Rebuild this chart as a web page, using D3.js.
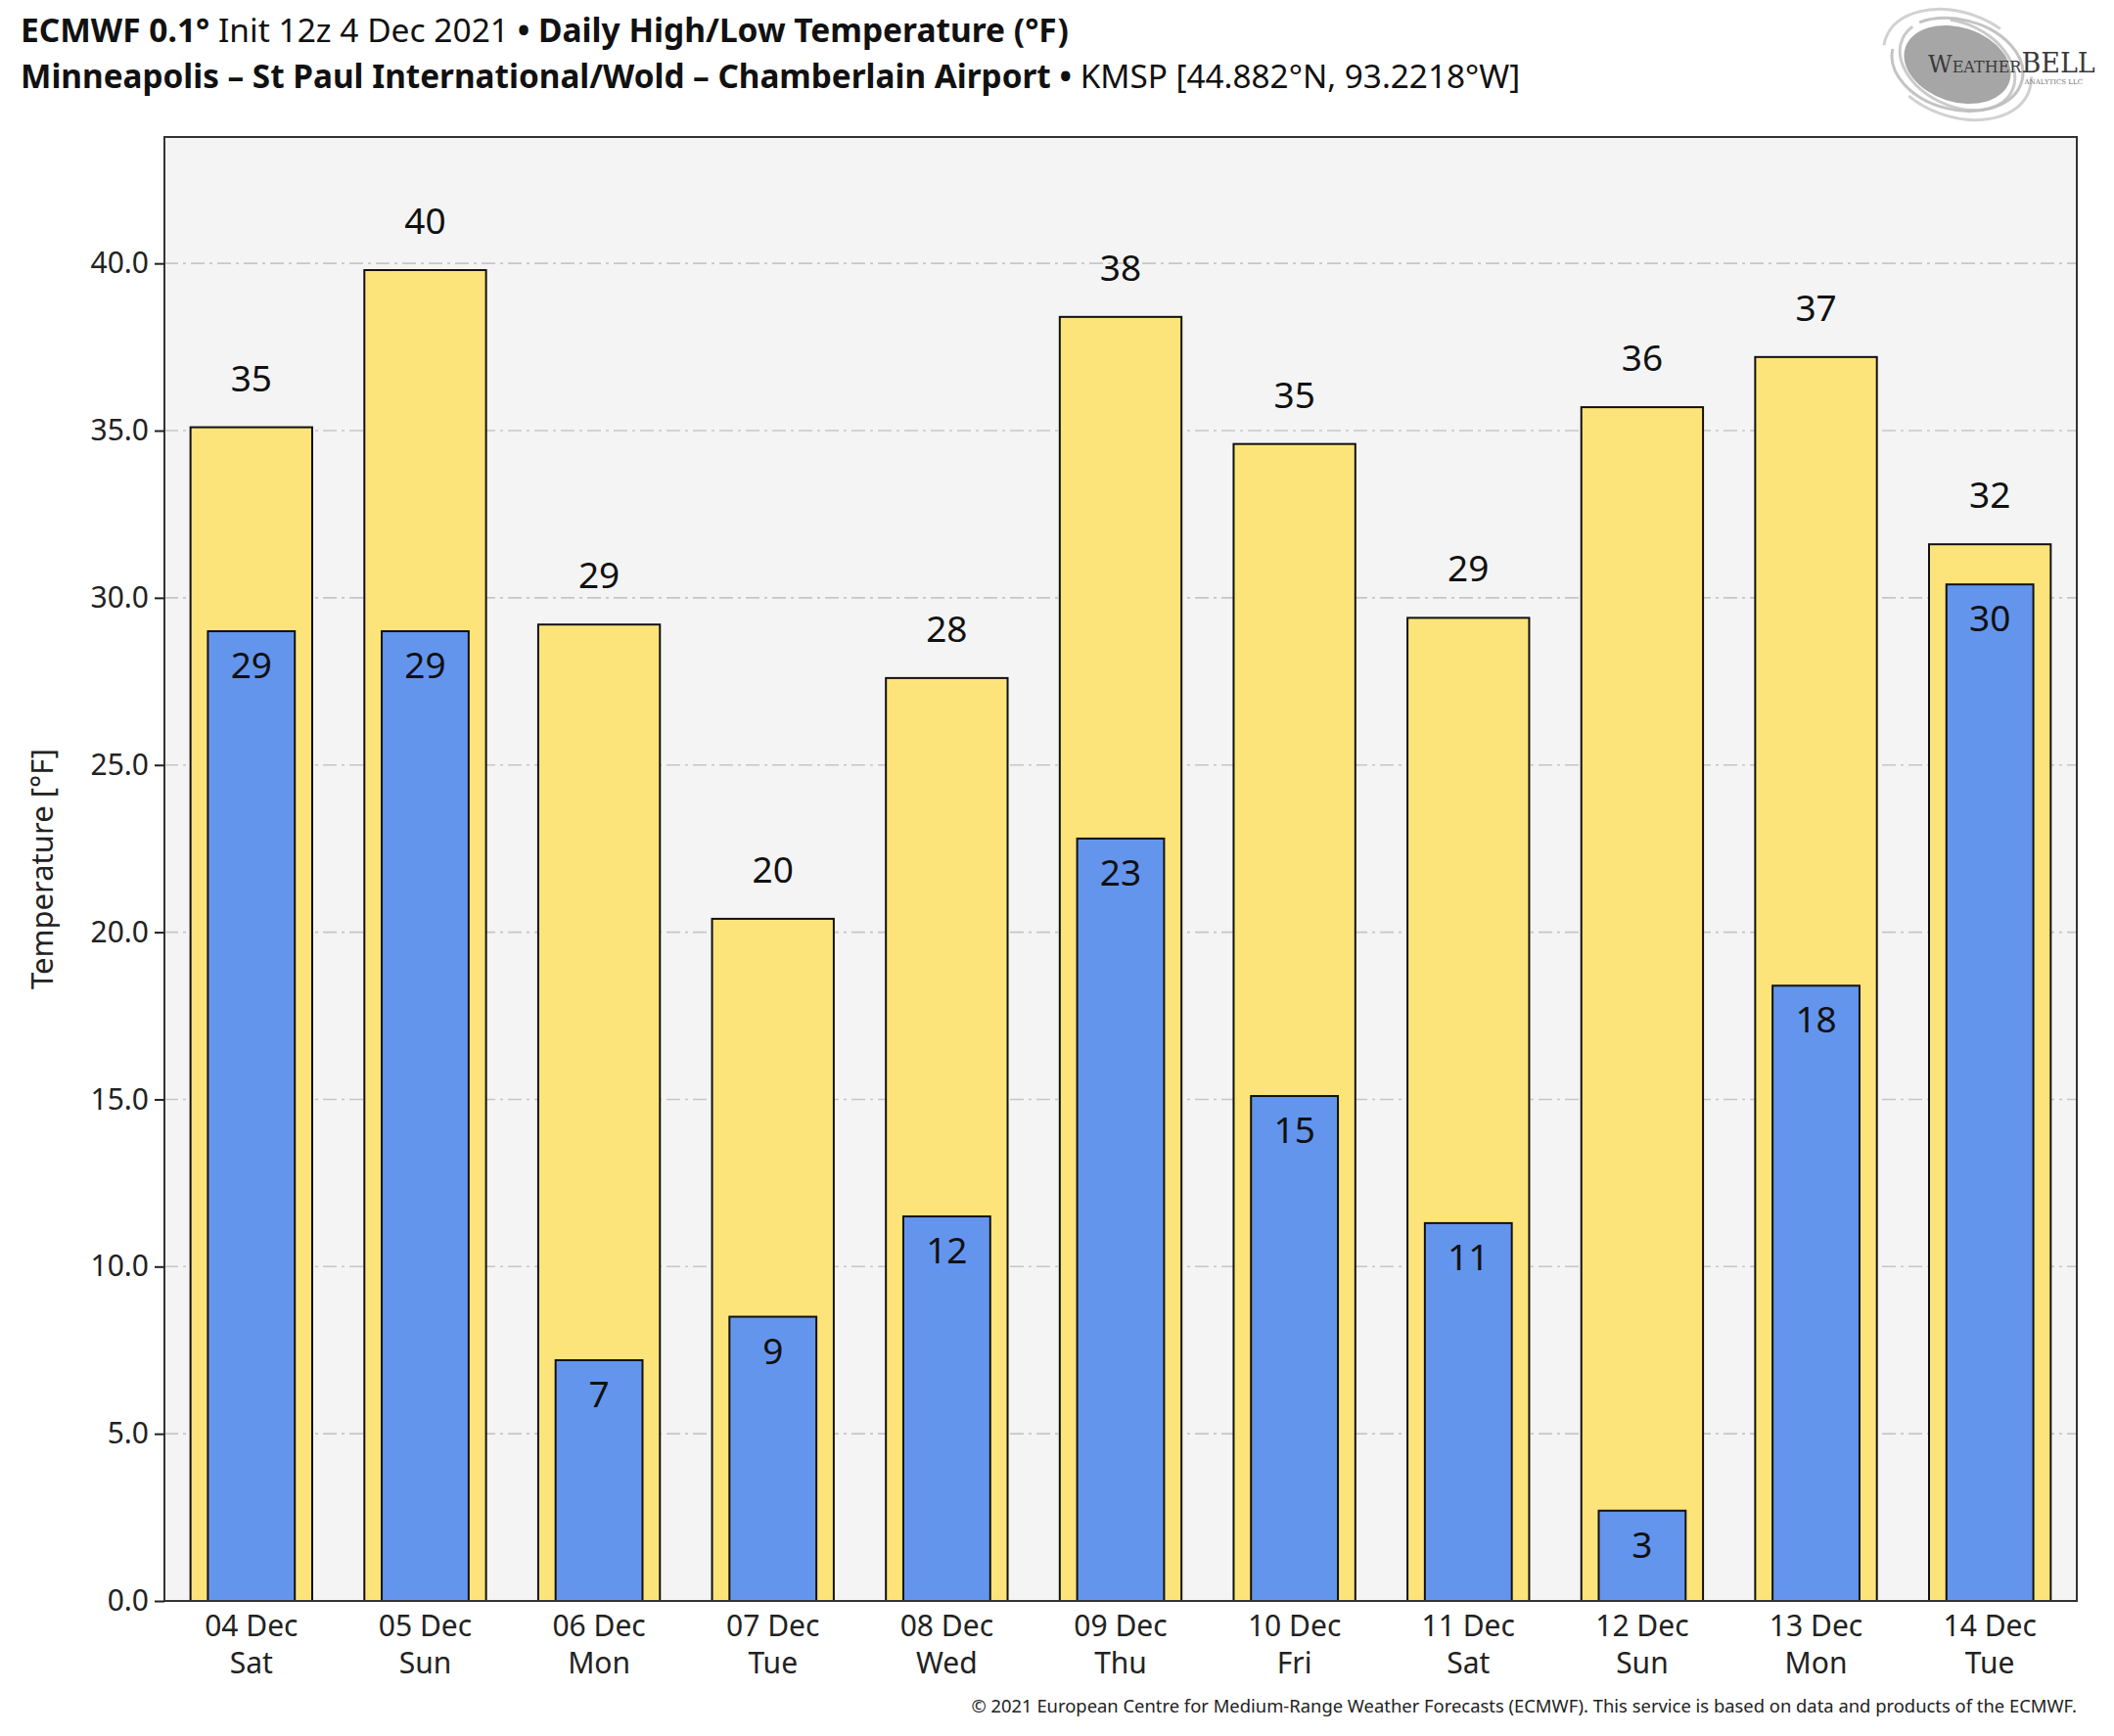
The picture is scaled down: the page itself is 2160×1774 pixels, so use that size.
<!DOCTYPE html>
<html>
<head>
<meta charset="utf-8">
<script src="https://cdn.jsdelivr.net/npm/d3@7"></script>
<style>
  body { margin: 0; background: #fff; }
  svg { display: block; font-family: "Noto Sans", "Open Sans", sans-serif; }
</style>
</head>
<body>
<svg></svg>
<script>
const dates = ["04 Dec", "05 Dec", "06 Dec", "07 Dec", "08 Dec", "09 Dec", "10 Dec", "11 Dec", "12 Dec", "13 Dec", "14 Dec"];
const weekdays = ["Sat", "Sun", "Mon", "Tue", "Wed", "Thu", "Fri", "Sat", "Sun", "Mon", "Tue"];
const highs = [35.1, 39.8, 29.2, 20.4, 27.6, 38.4, 34.6, 29.4, 35.7, 37.2, 31.6];
const lows = [29.0, 29.0, 7.2, 8.5, 11.5, 22.8, 15.1, 11.3, 2.7, 18.4, 30.4];
const yTicks = [0, 5, 10, 15, 20, 25, 30, 35, 40];

const full_width = 2160;
const full_height = 1774;
const margin = { top: 140, right: 38, bottom: 138, left: 168 };
const innerWidth = full_width - margin.left - margin.right;
const innerHeight = full_height - margin.top - margin.bottom;

const svg = d3.select("svg")
  .attr("width", full_width)
  .attr("height", full_height);

// titles
const t1 = svg.append("text").attr("x", 21).attr("y", 43)
  .attr("font-size", 33.5).attr("fill", "#111");
t1.append("tspan").attr("font-weight", "bold").text("ECMWF 0.1°");
t1.append("tspan").text(" Init 12z 4 Dec 2021 ");
t1.append("tspan").attr("font-weight", "bold").text(" • Daily High/Low Temperature (°F)");

const t2 = svg.append("text").attr("x", 21).attr("y", 90)
  .attr("font-size", 33.3).attr("fill", "#111");
t2.append("tspan").attr("font-weight", "bold")
  .text("Minneapolis – St Paul International/Wold – Chamberlain Airport •");
t2.append("tspan").text(" KMSP [44.882°N, 93.2218°W]");

// logo
const logo = svg.append("g").attr("transform", "translate(2000,66)");
logo.append("ellipse").attr("rx", 56).attr("ry", 38)
  .attr("transform", "rotate(18)").attr("fill", "#a6a6a6");
[[68, 46, 0.9], [78, 53, 0.7], [62, 42, 0.8]].forEach(([rx, ry, o], i) => {
  logo.append("ellipse").attr("rx", rx).attr("ry", ry)
    .attr("transform", `rotate(${14 + i * 6})`)
    .attr("fill", "none").attr("stroke", "#bdbdbd")
    .attr("stroke-width", 3).attr("stroke-dasharray", i === 1 ? "140,60" : "180,40")
    .attr("opacity", o);
});
const lt = logo.append("text").attr("x", -30).attr("y", 8)
  .attr("font-family", "DejaVu Serif, Liberation Serif, serif")
  .attr("fill", "#3a3a3a");
lt.append("tspan").attr("font-size", 24).text("W");
lt.append("tspan").attr("font-size", 16).text("EATHER");
lt.append("tspan").attr("font-size", 27).text("BELL");
logo.append("text").attr("x", 128).attr("y", 20).attr("text-anchor", "end")
  .attr("font-family", "DejaVu Serif, serif").attr("font-size", 7)
  .attr("fill", "#777").text("ANALYTICS LLC");

const chart = svg.append("g")
  .attr("transform", `translate(${margin.left},${margin.top})`);

const xScale = d3.scaleBand()
  .domain(dates)
  .range([0, innerWidth])
  .padding(0);

const yScale = d3.scaleLinear()
  .domain([0, d3.max(highs) * 1.1])
  .range([innerHeight, 0]);

chart.append("rect")
  .attr("width", innerWidth)
  .attr("height", innerHeight)
  .attr("fill", "#f4f4f4");

// grid
chart.append("g")
  .selectAll("line")
  .data(yTicks.slice(1))
  .join("line")
  .attr("x1", 0)
  .attr("x2", innerWidth)
  .attr("y1", d => yScale(d))
  .attr("y2", d => yScale(d))
  .attr("stroke", "#c6c6c6")
  .attr("stroke-width", 1.6)
  .attr("stroke-dasharray", "14,5,3,5");

const bw = xScale.bandwidth();

chart.append("g")
  .selectAll("rect")
  .data(highs)
  .join("rect")
  .attr("x", (d, i) => xScale(dates[i]) + bw * 0.15)
  .attr("width", bw * 0.7)
  .attr("y", d => yScale(d))
  .attr("height", d => innerHeight - yScale(d))
  .attr("fill", "#fde47a")
  .attr("stroke", "#111")
  .attr("stroke-width", 2);

chart.append("g")
  .selectAll("rect")
  .data(lows)
  .join("rect")
  .attr("x", (d, i) => xScale(dates[i]) + bw * 0.25)
  .attr("width", bw * 0.5)
  .attr("y", d => yScale(d))
  .attr("height", d => innerHeight - yScale(d))
  .attr("fill", "#6495ed")
  .attr("stroke", "#111")
  .attr("stroke-width", 2);

chart.append("g")
  .selectAll("text")
  .data(highs)
  .join("text")
  .attr("x", (d, i) => xScale(dates[i]) + bw / 2)
  .attr("y", d => yScale(d) - 37)
  .attr("text-anchor", "middle")
  .attr("font-size", 37)
  .attr("fill", "#111")
  .text(d => Math.round(d));

chart.append("g")
  .selectAll("text")
  .data(lows)
  .join("text")
  .attr("x", (d, i) => xScale(dates[i]) + bw / 2)
  .attr("y", d => yScale(d) + 48)
  .attr("text-anchor", "middle")
  .attr("font-size", 37)
  .attr("fill", "#111")
  .text(d => Math.round(d));

// frame
chart.append("rect")
  .attr("width", innerWidth)
  .attr("height", innerHeight)
  .attr("fill", "none")
  .attr("stroke", "#333")
  .attr("stroke-width", 2);

const yAxisG = chart.append("g")
  .call(d3.axisLeft(yScale).tickValues(yTicks).tickFormat(d3.format(".1f"))
    .tickSize(10).tickPadding(6));
yAxisG.select(".domain").remove();
yAxisG.selectAll(".tick line").attr("stroke", "#222").attr("stroke-width", 2);
yAxisG.selectAll(".tick text").attr("font-size", 30).attr("fill", "#222")
  .attr("font-family", "Noto Sans, sans-serif");

const xAxisG = chart.append("g")
  .attr("transform", `translate(0,${innerHeight})`)
  .call(d3.axisBottom(xScale).tickSize(0));
xAxisG.select(".domain").remove();
xAxisG.selectAll(".tick text").remove();
xAxisG.selectAll(".tick").each(function (d, i) {
  const t = d3.select(this).append("text")
    .attr("text-anchor", "middle")
    .attr("font-size", 30)
    .attr("fill", "#222")
    .attr("font-family", "Noto Sans, sans-serif");
  t.append("tspan").attr("x", 0).attr("y", 36).text(d);
  t.append("tspan").attr("x", 0).attr("y", 74).text(weekdays[i]);
});

chart.append("text")
  .attr("transform", `translate(${-114},${innerHeight / 2}) rotate(-90)`)
  .attr("text-anchor", "middle")
  .attr("font-size", 31)
  .attr("fill", "#222")
  .text("Temperature [°F]");

svg.append("text")
  .attr("x", margin.left + innerWidth)
  .attr("y", 1750)
  .attr("text-anchor", "end")
  .attr("font-size", 18.4)
  .attr("fill", "#222")
  .text("© 2021 European Centre for Medium-Range Weather Forecasts (ECMWF). This service is based on data and products of the ECMWF.");
</script>
</body>
</html>
